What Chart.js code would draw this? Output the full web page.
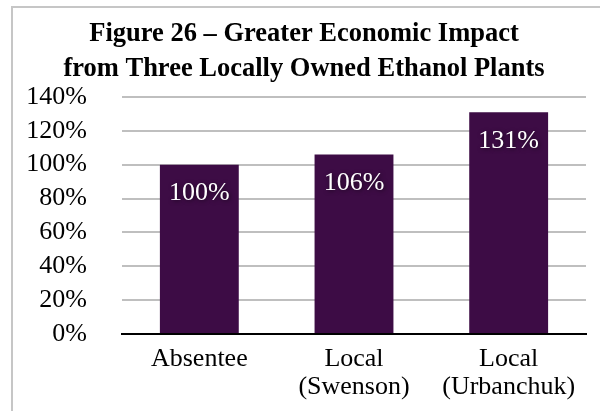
<!DOCTYPE html>
<html>
<head>
<meta charset="utf-8">
<script src="https://cdn.jsdelivr.net/npm/chart.js@4/dist/chart.umd.min.js"></script>
<style>
  html, body { margin: 0; padding: 0; background: #fff; }
  #wrap { position: relative; width: 600px; height: 411px; }
  #frame { position: absolute; left: 11px; top: 6px; width: 620px; height: 440px; border: 2px solid #c6c6c6; box-sizing: border-box; }
  canvas { position: absolute; left: 0; top: 0; }
</style>
</head>
<body>
<div id="wrap">
  <div id="frame"></div>
  <canvas id="c" width="600" height="411"></canvas>
</div>
<script>
const titleLines = ['Figure 26 \u2013 Greater Economic Impact', 'from Three Locally Owned Ethanol Plants'];
const categories = [['Absentee'], ['Local', '(Swenson)'], ['Local', '(Urbanchuk)']];
const values = [100, 106, 131];
const yMin = 0, yMax = 140, yStep = 20;

const FONT = '"Liberation Serif", "Times New Roman", serif';

const valueLabels = {
  id: 'valueLabels',
  afterDatasetsDraw(chart) {
    const ctx = chart.ctx;
    const meta = chart.getDatasetMeta(0);
    ctx.save();
    ctx.font = '26px ' + FONT;
    ctx.fillStyle = '#ffffff';
    ctx.textAlign = 'center';
    ctx.textBaseline = 'middle';
    ctx.shadowColor = 'rgba(0,0,0,0.6)';
    ctx.shadowBlur = 4;
    ctx.shadowOffsetX = 1;
    ctx.shadowOffsetY = 1;
    meta.data.forEach((bar, i) => {
      ctx.fillText(values[i] + '%', bar.x, bar.y + 29);
    });
    ctx.restore();
  }
};

new Chart(document.getElementById('c'), {
  type: 'bar',
  data: {
    labels: categories,
    datasets: [{
      data: values,
      backgroundColor: '#3d0c45',
      borderWidth: 0,
      categoryPercentage: 1,
      barPercentage: 0.51
    }]
  },
  options: {
    responsive: false,
    animation: false,
    layout: { padding: { left: 22, right: 14, top: 0, bottom: 0 } },
    plugins: {
      legend: { display: false },
      tooltip: { enabled: false },
      title: {
        display: true,
        text: titleLines,
        color: '#000',
        font: { family: FONT, size: 26.5, weight: 'bold', lineHeight: 1.3 },
        padding: { top: 17, bottom: 11 }
      }
    },
    scales: {
      x: {
        grid: { display: false },
        border: { display: true, color: '#000', width: 2 },
        ticks: {
          color: '#000',
          font: { family: FONT, size: 26, lineHeight: 1.08 },
          padding: 3,
          maxRotation: 0,
          autoSkip: false
        },
        afterFit(scale) { scale.height = 77; }
      },
      y: {
        min: yMin,
        max: yMax,
        border: { display: false },
        grid: {
          drawTicks: false,
          lineWidth: 2,
          color: (c) => (c.tick && c.tick.value === 0) ? '#000' : '#bfbfbf'
        },
        ticks: {
          stepSize: yStep,
          autoSkip: false,
          color: '#000',
          font: { family: FONT, size: 26 },
          padding: 35,
          callback: (v) => v + '%'
        },
        afterFit(scale) { scale.width = 100; }
      }
    }
  },
  plugins: [valueLabels]
});
</script>
</body>
</html>
